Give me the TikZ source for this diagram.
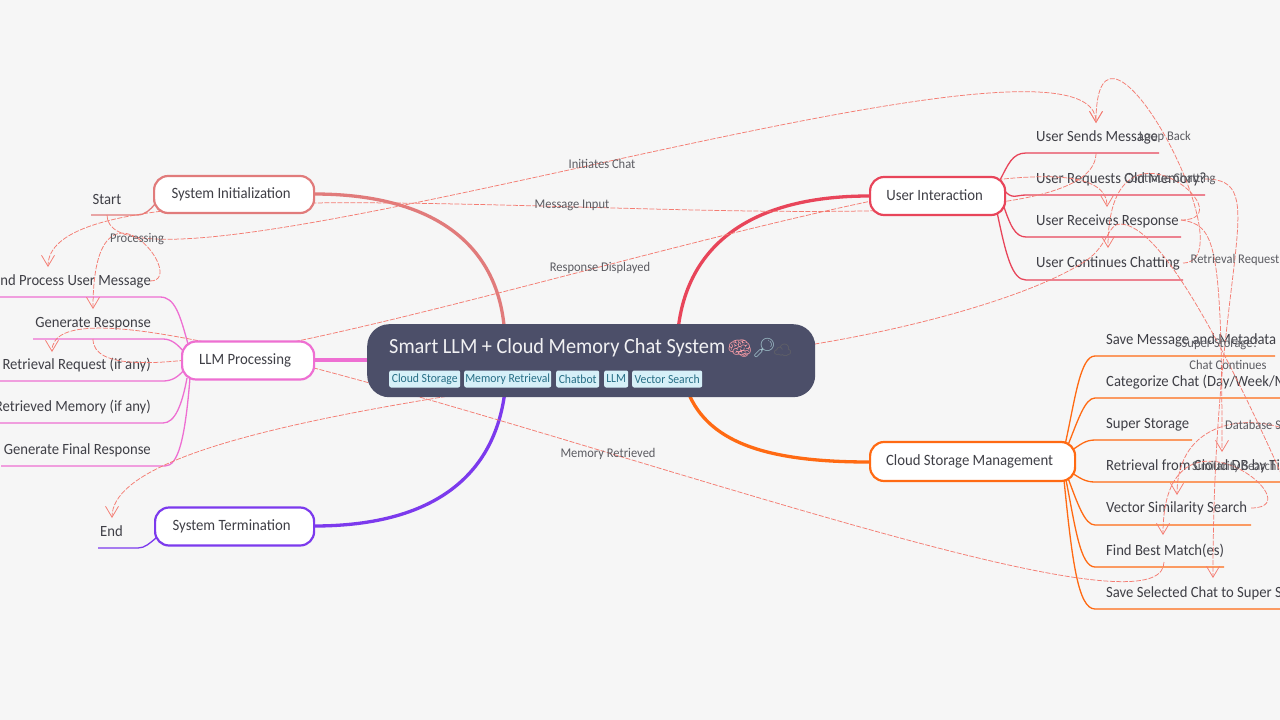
\documentclass[tikz,border=0pt]{standalone}
\usepackage{fontspec}
\setmainfont[FakeStretch=0.94]{Carlito}
\newfontfamily\emojifont{Noto Emoji}
\usetikzlibrary{arrows.meta}
\definecolor{bgc}{HTML}{F6F6F6}
\definecolor{rootc}{HTML}{4C4F69}
\definecolor{tagbg}{HTML}{D6F0F8}
\definecolor{tagtx}{HTML}{276F86}
\definecolor{txc}{HTML}{3F3F46}
\definecolor{sysc}{HTML}{E17B7B}
\definecolor{llmc}{HTML}{EE6FD2}
\definecolor{termc}{HTML}{7C3AED}
\definecolor{userc}{HTML}{E8455A}
\definecolor{cloudc}{HTML}{FF6A13}
\definecolor{relc}{HTML}{F47C72}
\tikzset{
 x=1pt,y=-1pt,
 branch/.style={line width=2.2pt,fill=white,rounded corners=14pt,inner sep=0pt,font=\fontsize{15.7}{18}\selectfont,text=txc,anchor=west,execute at begin node=\kern-6pt},
 leaf/.style={inner sep=0pt,font=\fontsize{15.6}{18}\selectfont,text=txc},
 wire/.style={line width=1.3pt},
 mainwire/.style={line width=3.3pt},
 rel/.style={relc,line width=.75pt,dash pattern=on 5pt off 1.5pt,-{Straight Barb[length=11pt,width=13pt,line width=.75pt]}},
 rlabel/.style={inner sep=0pt,font=\fontsize{13.3}{14}\selectfont,text=txc!85},
 tagbox/.style={fill=tagbg,rounded corners=2pt,inner sep=0pt,minimum height=17pt,font=\fontsize{12.4}{14}\selectfont,text=tagtx,anchor=west},
}
\begin{document}
\begin{tikzpicture}
\useasboundingbox (0,0) rectangle (1280,720);
\clip (0,0) rectangle (1280,720);
\fill[bgc] (0,0) rectangle (1280,720);

% free end points of leaf underlines
\coordinate (ustartl) at (91,215);
\coordinate (uendl) at (98,548);
\coordinate (lp1) at (-5,297);
\coordinate (lp2) at (33,339);
\coordinate (lp3) at (-5,381);
\coordinate (lp4) at (-5,423);
\coordinate (lp5) at (1,466);
\coordinate (ua) at (1159,153);
\coordinate (ub) at (1205,195);
\coordinate (uc) at (1181,237);
\coordinate (ud) at (1183,280);
\coordinate (ca) at (1275,356);
\coordinate (cb) at (1285,398);
\coordinate (cc) at (1192,440);
\coordinate (cd) at (1285,482);
\coordinate (ce) at (1251,525);
\coordinate (cf) at (1224,567);
\coordinate (cg) at (1285,609);
\coordinate (farchat) at (1295,505);
\coordinate (fardb) at (1292,432);

% main branches
\coordinate (hub) at (505,345);
\coordinate (sysin) at (314,194);
\coordinate (llmin) at (314,360);
\coordinate (termin) at (314,526);
\coordinate (userin) at (869,196);
\coordinate (cloudin) at (869,462);
\draw[mainwire,sysc] (sysin) .. controls (440,194) and (505,250) .. (hub);
\draw[mainwire,llmc] (llmin) -- (375,360);
\draw[mainwire,termc] (termin) .. controls (440,526) and (500,470) .. (506,380);
\draw[mainwire,userc] (userin) .. controls (745,196) and (680,250) .. (677,345);
\draw[mainwire,cloudc] (cloudin) .. controls (760,462) and (700,440) .. (684,380);

% leaf wires (left)
\draw[wire,sysc] (ustartl) -- (137,215) .. controls (145,215) and (150,210) .. (155,204);
\draw[wire,termc] (uendl) -- (138,548) .. controls (145,548) and (150,543) .. (156,538);
\draw[wire,llmc] (lp1) -- (160,297) .. controls (175,297) and (180,315) .. (188,344);
\draw[wire,llmc] (lp2) -- (163,339) .. controls (172,339) and (178,345) .. (184,352);
\draw[wire,llmc] (lp3) -- (163,381) .. controls (172,381) and (178,377) .. (184,370);
\draw[wire,llmc] (lp4) -- (163,423) .. controls (175,423) and (182,405) .. (187,378);
\draw[wire,llmc] (lp5) -- (165,466) .. controls (178,466) and (185,440) .. (190,378);
% leaf wires (right)
\draw[wire,userc] (1000,180) .. controls (1008,165) and (1012,153) .. (1026,153) -- (ua);
\draw[wire,userc] (1004,190) .. controls (1012,200) and (1016,195) .. (1026,195) -- (ub);
\draw[wire,userc] (1003,204) .. controls (1010,225) and (1015,237) .. (1026,237) -- (uc);
\draw[wire,userc] (997,212) .. controls (1006,255) and (1012,280) .. (1026,280) -- (ud);
\draw[wire,cloudc] (1065,445) .. controls (1075,400) and (1080,356) .. (1095,356) -- (ca);
\draw[wire,cloudc] (1068,445) .. controls (1078,420) and (1085,398) .. (1095,398) -- (cb);
\draw[wire,cloudc] (1072,450) .. controls (1080,445) and (1085,440) .. (1095,440) -- (cc);
\draw[wire,cloudc] (1072,473) .. controls (1080,478) and (1085,482) .. (1095,482) -- (cd);
\draw[wire,cloudc] (1068,478) .. controls (1078,505) and (1085,525) .. (1095,525) -- (ce);
\draw[wire,cloudc] (1066,480) .. controls (1075,525) and (1080,567) .. (1095,567) -- (cf);
\draw[wire,cloudc] (1064,480) .. controls (1072,560) and (1078,609) .. (1095,609) -- (cg);

% leaf texts
\node[leaf,anchor=center] (start) at (107,199.5) {Start};
\node[leaf,anchor=west] (endn) at (100,531.5) {End};
\node[leaf,anchor=east] (l1) at (151,281.5) {and Process User Message};
\node[leaf,anchor=east] (l2) at (151,323.5) {Generate Response};
\node[leaf,anchor=east] (l3) at (151,365.5) {Retrieval Request (if any)};
\node[leaf,anchor=east] (l4) at (151,407.5) {Retrieved Memory (if any)};
\node[leaf,anchor=east] (l5) at (151,450) {Generate Final Response};
\node[leaf,anchor=west] (u1) at (1036,137.5) {User Sends Message};
\node[leaf,anchor=west] (u2) at (1036,179.5) {User Requests Old Memory?};
\node[leaf,anchor=west] (u3) at (1036,221.5) {User Receives Response};
\node[leaf,anchor=west] (u4) at (1036,263.5) {User Continues Chatting};
\node[leaf,anchor=west] (c1) at (1106,340.5) {Save Message and Metadata};
\node[leaf,anchor=west] (c2) at (1106,382.5) {Categorize Chat (Day/Week/M};
\node[leaf,anchor=west] (c3) at (1106,424.5) {Super Storage};
\node[leaf,anchor=west] (c4) at (1106,466.5) {Retrieval from Cloud DB by Ti};
\node[leaf,anchor=west] (c5) at (1106,508.5) {Vector Similarity Search};
\node[leaf,anchor=west] (c6) at (1106,550.5) {Find Best Match(es)};
\node[leaf,anchor=west] (c7) at (1106,593) {Save Selected Chat to Super S};

% dashed relations
\draw[rel] (107,215) .. controls (107,330) and (1096,-8) .. (1096,123);
\draw[rel] (1096,153) .. controls (1096,291) and (48,121) .. (48,267);
\draw[rel] (150,281) .. controls (191,281) and (93,157) .. (93,309);
\draw[rel] (93,339) .. controls (93,460) and (1107,70) .. (1107,207);
\draw[rel] (1164,562) .. controls (1164,680) and (52,223) .. (52,352);
\draw[rel] (1183,263) .. controls (1251,263) and (1096,-29) .. (1096,123);
\draw[rel] (1181,220) .. controls (1249,220) and (1108,99) .. (1108,248);
\draw[rel] (1205,179) .. controls (1274,179) and (1213,259) .. (1213,578);
\draw[rel] (1181,220) .. controls (1215,225) and (1222,240) .. (1222,452);
\draw[rel] (farchat) .. controls (1225,345) and (1160,224) .. (1120,224)
   .. controls (1108,224) and (1108,245) .. (1087,260)
   .. controls (1040,292) and (930,325) .. (815,344)
   .. controls (500,388) and (112,430) .. (112,518);
\draw[rel] (fardb) .. controls (1250,412) and (1177,420) .. (1177,495);
\draw[rel] (1251,508) .. controls (1318,508) and (1163,387) .. (1163,535);

% relation labels
\node[rlabel] (r1) at (602,163.5) {Initiates Chat};
\node[rlabel] (r2) at (572,205) {Message Input};
\node[rlabel] (r3) at (600,268) {Response Displayed};
\node[rlabel] (r4) at (608,454) {Memory Retrieved};
\node[rlabel] (r5) at (137,239) {Processing};
\node[rlabel] (r6) at (1165,137) {Loop Back};
\node[rlabel] (r7) at (1170,179) {Continue Chatting};
\node[rlabel] (r8) at (1235,260) {Retrieval Request};
\node[rlabel] (r9) at (1220,344) {Super Storage?};
\node[rlabel] (r10) at (1228,365) {Chat Continues};
\node[rlabel,anchor=west] (r11) at (1225,425) {Database S};
\node[rlabel,anchor=west] (r12) at (1192,467) {Similarity Search};

% branch nodes
\node[branch,draw=sysc,minimum width=160pt,minimum height=37pt] (sys) at (153,194.5) {System Initialization};
\node[branch,draw=llmc,minimum width=132pt,minimum height=38pt] (llm) at (181,360.5) {LLM Processing};
\node[branch,draw=termc,minimum width=159pt,minimum height=38pt] (term) at (154,526.5) {System Termination};
\node[branch,draw=userc,minimum width=135pt,minimum height=38pt] (user) at (869,196) {\raisebox{1.5pt}{User Interaction}};
\node[branch,draw=cloudc,minimum width=205pt,minimum height=39pt] (cloud) at (869,461.5) {Cloud Storage Management};

% root
\node[fill=rootc,rounded corners=22pt,minimum width=448pt,minimum height=73pt,inner sep=0pt,anchor=north west] (root) at (367,324) {};
\node[inner sep=0pt,anchor=west,text=white!92!rootc,font=\fontsize{21.6}{24}\selectfont] (title) at (389,348) {Smart LLM + Cloud Memory Chat System};
\node[inner sep=0pt,anchor=west,font=\fontsize{20}{20}\selectfont\emojifont,text=userc!55!white] (em1) at (727,349) {🧠};
\node[inner sep=0pt,anchor=west,font=\fontsize{19}{20}\selectfont\emojifont,text=tagtx!45!white] (em2) at (752,348) {🔎};
\node[inner sep=0pt,anchor=west,font=\fontsize{15}{16}\selectfont\emojifont,text=black!60] (em3) at (773,350) {☁};
\node[tagbox,minimum width=71pt] (t1) at (389,379) {Cloud Storage};
\node[tagbox,minimum width=87pt] (t2) at (464,379) {Memory Retrieval};
\node[tagbox,minimum width=43pt] (t3) at (556,379) {Chatbot};
\node[tagbox,minimum width=24pt] (t4) at (604,379) {LLM};
\node[tagbox,minimum width=70pt] (t5) at (632,379) {Vector Search};
\end{tikzpicture}
\end{document}
